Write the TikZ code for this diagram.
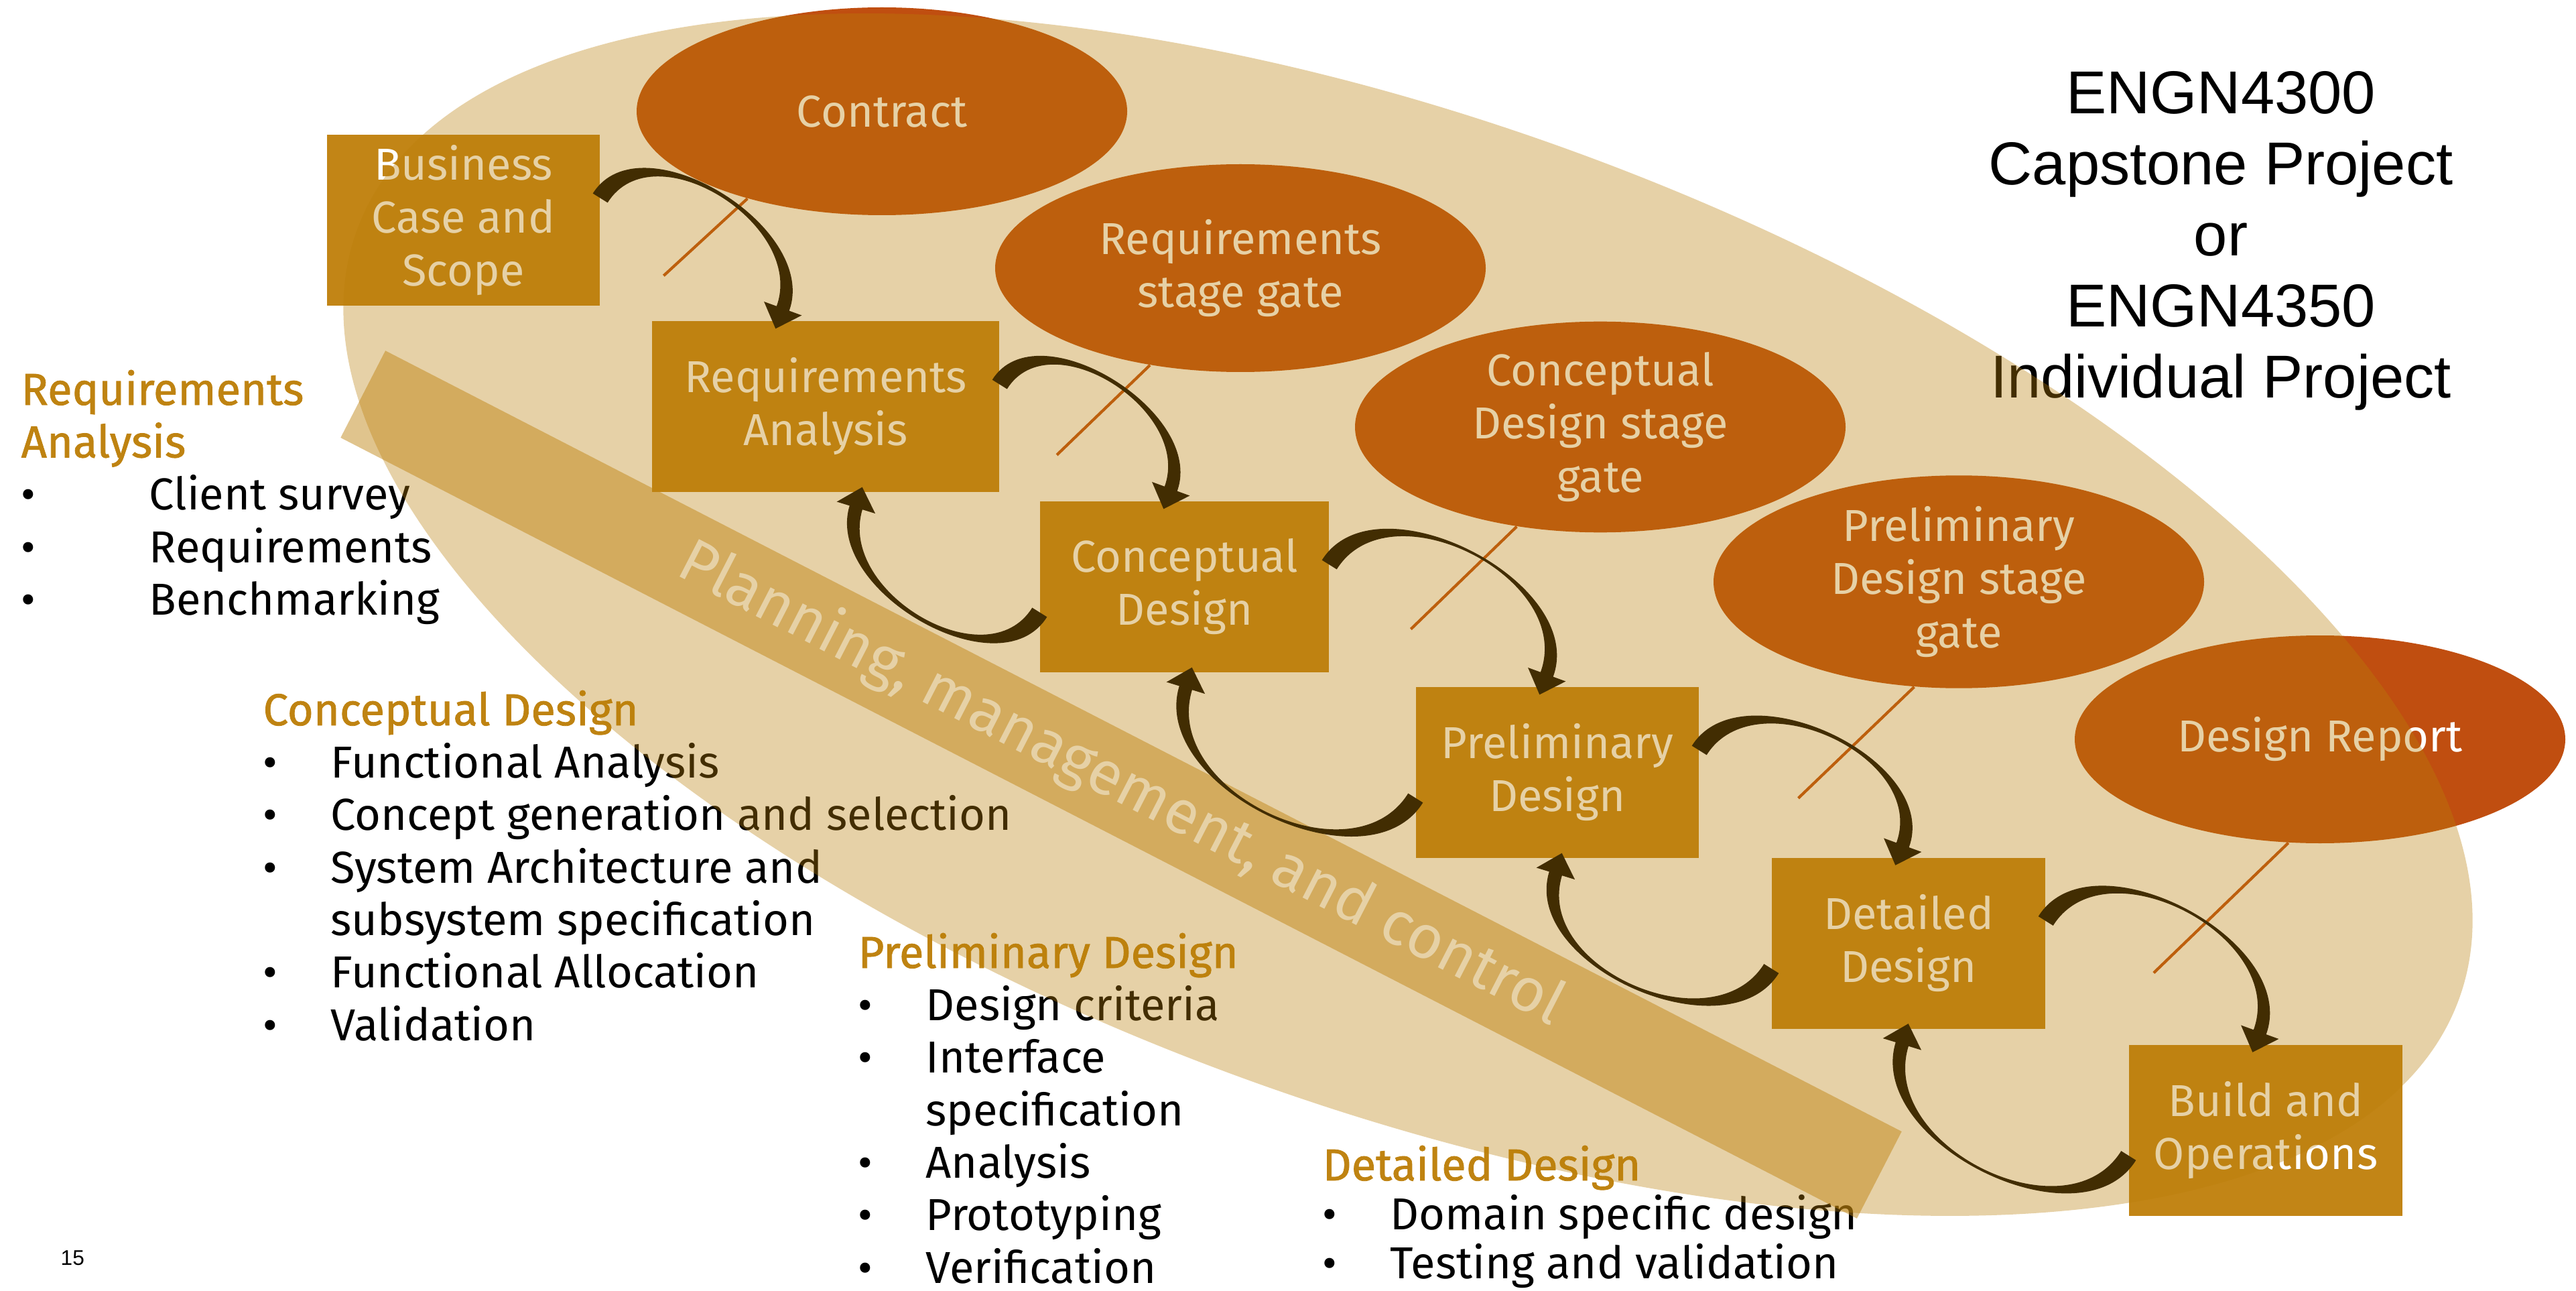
\documentclass[tikz,border=0pt]{standalone}
\usepackage{fontspec}
\setmainfont{Fira Sans}
\newfontfamily\titlefont{Liberation Sans}
\newfontfamily\headfont[FakeBold=1.2]{Fira Sans}
\usetikzlibrary{calc, shapes.geometric}

\definecolor{gold}{HTML}{BF8311}
\definecolor{boxgold}{HTML}{C28516}
\definecolor{gateorange}{HTML}{C04E10}
\definecolor{ovalgold}{HTML}{BA7F08}

\newcommand{\listhead}{\headfont\color{gold}}
% curved tapered arrow: start, tip, out angle, in angle
\newcommand{\flowarrow}[4]{%
  \fill[flow] ($(#1)+(#3+90:0.13)$) to[out=#3, in=#4] ($(#2)+(#4:0.32)+(#4-90:0.1)$)
    -- ($(#2)+(#4:0.32)+(#4-90:0.3)$) -- (#2)
    -- ($(#2)+(#4:0.32)+(#4+90:0.3)$) -- ($(#2)+(#4:0.32)+(#4+90:0.1)$)
    to[out=#4, in=#3, looseness=1.12] ($(#1)+(#3-90:0.13)$) -- cycle;}

\begin{document}
\begin{tikzpicture}[
		phase/.style = {rectangle, fill=boxgold, text=white, minimum height=2.55cm, inner sep=0pt, align=center, font=\fontsize{19}{22.5}\selectfont},
		gate/.style = {ellipse, fill=gateorange, text=white, minimum width=7.32cm, minimum height=3.1cm, inner sep=0pt, align=center, font=\fontsize{19}{22.5}\selectfont},
		gateline/.style = {draw=gateorange, line width=1.2pt},
		flow/.style = {fill=black},
		band/.style = {rectangle, fill=gold, fill opacity=0.48, text opacity=1, text=white, minimum width=25.45cm, minimum height=1.46cm, inner sep=0pt, rotate=-27.24, font=\fontsize{26}{30}\selectfont},
		notes/.style = {anchor=base west, inner sep=0pt, font=\fontsize{19}{22.3}\selectfont},
		]
		\useasboundingbox (0,0) rectangle (38.44,-19.26);
		
		% Texto
		\node[notes] (reqnotes) at (0.31,-6.04) {\begin{tabular}[t]{@{}p{1.91cm}@{}l@{}}
			\multicolumn{2}{@{}l@{}}{\listhead Requirements}\\
			\multicolumn{2}{@{}l@{}}{\listhead Analysis}\\
			\textbullet & Client survey\\
			\textbullet & Requirements\\
			\textbullet & Benchmarking
		\end{tabular}};
		\node[notes] (connotes) at (3.92,-10.82) {\begin{tabular}[t]{@{}p{1.01cm}@{}l@{}}
			\multicolumn{2}{@{}l@{}}{\listhead Conceptual Design}\\
			\textbullet & Functional Analysis\\
			\textbullet & Concept generation and selection\\
			\textbullet & System Architecture and\\
			& subsystem specification\\
			\textbullet & Functional Allocation\\
			\textbullet & Validation
		\end{tabular}};
		\node[notes] (prenotes) at (12.80,-14.44) {\begin{tabular}[t]{@{}p{1.01cm}@{}l@{}}
			\multicolumn{2}{@{}l@{}}{\listhead Preliminary Design}\\
			\textbullet & Design criteria\\
			\textbullet & Interface\\
			& specification\\
			\textbullet & Analysis\\
			\textbullet & Prototyping\\
			\textbullet & Verification
		\end{tabular}};
		\node[notes, font=\fontsize{19}{20.3}\selectfont] (detnotes) at (19.73,-17.61) {\begin{tabular}[t]{@{}p{1.01cm}@{}l@{}}
			\multicolumn{2}{@{}l@{}}{\listhead Detailed Design}\\
			\textbullet & Domain specific design\\
			\textbullet & Testing and validation
		\end{tabular}};
		\node[anchor=base, inner sep=0pt, font=\titlefont\fontsize{25.7}{30.1}\selectfont] (course) at (33.14,-1.70) {\begin{tabular}[t]{@{}c@{}}
			ENGN4300\\ Capstone Project\\ or\\ ENGN4350\\ Individual Project
		\end{tabular}};
		\node[anchor=base west, inner sep=0pt, font=\titlefont\fontsize{9}{11}\selectfont] (pagenum) at (0.90,-18.87) {15};
		
		% Banda
		\node[band] (planning) at (16.73,-11.705) {Planning, management, and control};
		
		% Fases
		\node[phase, minimum width=4.07cm] (b1) at (6.915,-3.285) {Business\\ Case and\\ Scope};
		\node[phase, minimum width=5.18cm] (b2) at (12.32,-6.065) {Requirements\\ Analysis};
		\node[phase, minimum width=4.31cm] (b3) at (17.675,-8.755) {Conceptual\\ Design};
		\node[phase, minimum width=4.22cm] (b4) at (23.24,-11.525) {Preliminary\\ Design};
		\node[phase, minimum width=4.08cm] (b5) at (28.48,-14.07) {Detailed\\ Design};
		\node[phase, minimum width=4.08cm] (b6) at (33.81,-16.86) {Build and\\ Operations};
		
		% Puertas
		\node[gate] (g1) at (13.16,-1.66) {Contract};
		\node[gate] (g2) at (18.51,-4.00) {Requirements\\ stage gate};
		\node[gate] (g3) at (23.88,-6.37) {Conceptual\\ Design stage\\ gate};
		\node[gate] (g4) at (29.23,-8.68) {Preliminary\\ Design stage\\ gate};
		\node[gate] (g5) at (34.62,-11.03) {Design Report};
		\foreach \g/\ang/\dx/\dy in {g1/213/1.25/1.15, g2/227/1.39/1.34, g3/230/1.58/1.53, g4/247/1.73/1.66, g5/253/2.01/1.94}
			\draw[gateline] (\g.\ang) -- ++(-\dx,-\dy);
		
		% Conexiones
		\foreach \a/\b in {b1/b2, b2/b3, b3/b4, b4/b5, b5/b6} {
			\coordinate (\a-out) at ($(\a.east)+(0,0.33)$);
			\coordinate (\b-in) at ($(\b.north west)+(1.85,-0.12)$);
			\flowarrow{\a-out}{\b-in}{58}{70}
		}
		\foreach \a/\b in {b2/b3, b3/b4, b4/b5, b5/b6} {
			\coordinate (\b-back) at ($(\b.west)+(0,-0.38)$);
			\coordinate (\a-ret) at ($(\a.south east)+(-2.05,0.08)$);
			\flowarrow{\b-back}{\a-ret}{238}{253}
		}
		
		% Ciclo de vida
		\fill[ovalgold, fill opacity=0.355, rotate around={-20.1:(21.01,-9.17)}] (21.01,-9.17) ellipse [x radius=16.7, y radius=7.34];
	\end{tikzpicture}
\end{document}
